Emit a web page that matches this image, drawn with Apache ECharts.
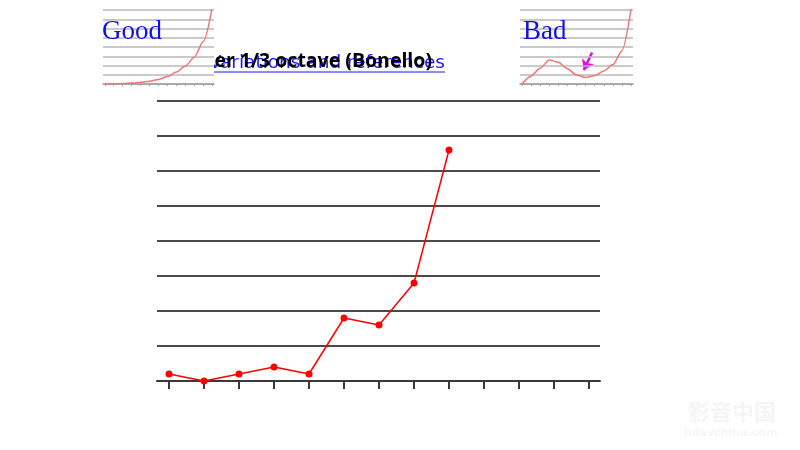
<!DOCTYPE html>
<html><head><meta charset="utf-8">
<script src="https://cdn.jsdelivr.net/npm/echarts@6/dist/echarts.min.js"></script>
<style>html,body{margin:0;padding:0;background:#fff}#c{width:800px;height:450px}</style>
</head><body><div id="c"></div>
<script>
// ---- data ----
const bandIndex = [0, 1, 2, 3, 4, 5, 6, 7, 8];
const levels = [0.2, 0, 0.2, 0.4, 0.2, 1.8, 1.6, 2.8, 6.6];
const tickPositions = [0, 1, 2, 3, 4, 5, 6, 7, 8, 9, 10, 11, 12];
const insetX = [0, 1, 2, 3, 4, 5, 6, 7, 8, 9, 10, 11, 12];
const goodCurve = [0, 0.02, 0.05, 0.1, 0.18, 0.3, 0.5, 0.8, 1.3, 1.95, 2.9, 4.6, 8.3];
const badCurve = [0, 0.85, 1.7, 2.6, 2.35, 1.65, 0.98, 0.7, 0.92, 1.4, 2.1, 3.6, 8.2];
const badArrow = [[7.7, 3.4], [6.8, 1.5]];
const titleMain = 'Energy per 1/3 octave (Bonello)';
const titleLink = 'Variations and references';
const goodLabel = 'Good';
const badLabel = 'Bad';

const chart = echarts.init(document.getElementById('c'));
const pairs = (xs, ys) => xs.map((x, i) => [x, ys[i]]);

const insetY = (gi) => ({
  type: 'value', gridIndex: gi, min: 0, max: 8, interval: 1, z: 6,
  axisLine: {show: false}, axisTick: {show: false}, axisLabel: {show: false},
  splitLine: {lineStyle: {color: '#b8b8b8', width: 1.5}}
});
const insetXAxis = (gi) => ({
  type: 'value', gridIndex: gi, min: -0.2, max: 12.2, z: 6,
  axisLine: {lineStyle: {color: '#a0a0a0', width: 1.5}},
  axisTick: {customValues: tickPositions, length: 2, lineStyle: {color: '#a0a0a0'}},
  axisLabel: {show: false}, splitLine: {show: false}
});

chart.setOption({
  animation: false,
  backgroundColor: '#ffffff',
  grid: [
    {left: 157, top: 101, width: 443, height: 280},
    {left: 103, top: 10, width: 111, height: 74, z: 5, show: true, backgroundColor: '#ffffff', borderWidth: 0},
    {left: 520, top: 10, width: 113, height: 74, z: 5, show: true, backgroundColor: '#ffffff', borderWidth: 0}
  ],
  xAxis: [
    {type: 'value', gridIndex: 0, min: -0.343, max: 12.314,
     axisLine: {lineStyle: {color: '#3a3a3a', width: 2}},
     axisTick: {customValues: tickPositions, length: 8, lineStyle: {color: '#3a3a3a', width: 2}},
     axisLabel: {show: false}, splitLine: {show: false}},
    insetXAxis(1), insetXAxis(2)
  ],
  yAxis: [
    {type: 'value', gridIndex: 0, min: 0, max: 8, interval: 1,
     axisLine: {show: false}, axisTick: {show: false}, axisLabel: {show: false},
     splitLine: {lineStyle: {color: '#4a4a4a', width: 2}}},
    insetY(1), insetY(2)
  ],
  series: [
    {type: 'line', xAxisIndex: 0, yAxisIndex: 0, data: pairs(bandIndex, levels),
     symbol: 'circle', symbolSize: 7, itemStyle: {color: '#ff0000'},
     lineStyle: {color: '#ff0000', width: 1.5}, z: 3},
    {type: 'line', xAxisIndex: 1, yAxisIndex: 1, data: pairs(insetX, goodCurve), smooth: 0.3,
     smoothMonotone: 'x', showSymbol: false, lineStyle: {color: '#ee7777', width: 1.5}, z: 7},
    {type: 'line', xAxisIndex: 2, yAxisIndex: 2, data: pairs(insetX, badCurve), smooth: 0.25,
     smoothMonotone: 'x', showSymbol: false, lineStyle: {color: '#ee7777', width: 1.5}, z: 7,
     markLine: {silent: true, symbol: ['none', 'arrow'], symbolSize: 10, label: {show: false},
       lineStyle: {color: '#e010e0', width: 2.5, type: 'solid'},
       data: [[{coord: badArrow[0]}, {coord: badArrow[1]}]]}}
  ],
  graphic: [
    {type: 'text', z: 1, x: 445, y: 63.5,
     style: {text: titleLink, fill: '#1a1aff', font: '18.5px "DejaVu Sans"', align: 'right', verticalAlign: 'middle'}},
    {type: 'line', z: 1, shape: {x1: 190, y1: 72, x2: 445, y2: 72}, style: {stroke: '#1a1aff', lineWidth: 1}},
    {type: 'text', z: 2, x: 432, y: 61,
     style: {text: titleMain, fill: '#000000', font: 'bold 19.5px "Open Sans"', align: 'right', verticalAlign: 'middle'}},
    {type: 'text', z: 20, x: 102, y: 31.5,
     style: {text: goodLabel, fill: '#1010e8', font: '27px "Liberation Serif"', verticalAlign: 'middle'}},
    {type: 'text', z: 20, x: 523, y: 31.5,
     style: {text: badLabel, fill: '#1010e8', font: '27px "Liberation Serif"', verticalAlign: 'middle'}},
    {type: 'text', z: 0, x: 688, y: 412,
     style: {text: '影音中国', fill: '#f5f5f5', font: 'bold 22px "Noto Sans CJK SC"', verticalAlign: 'middle'}},
    {type: 'text', z: 0, x: 684, y: 433,
     style: {text: 'hdavchina.com', fill: '#f5f5f5', font: 'bold 11px "DejaVu Sans"', verticalAlign: 'middle'}}
  ]
});
</script></body></html>
